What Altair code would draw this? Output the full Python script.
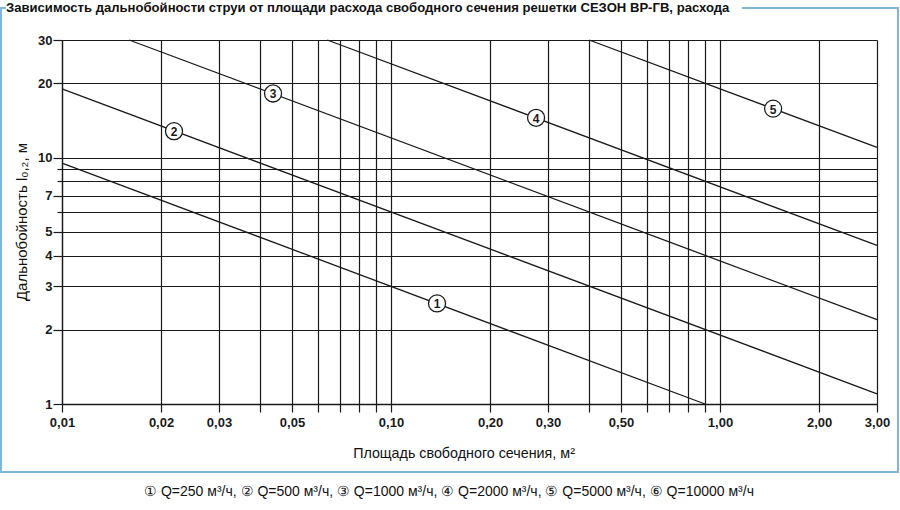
import altair as alt
import pandas as pd

# ---- data ----
line_ids = ["1", "2", "3", "4", "5"]
x_start = [0.01, 0.01, 0.016, 0.064, 0.40]
y_start = [9.5, 19.0, 30.0, 30.0, 30.0]
x_end = [0.90, 3.0, 3.0, 3.0, 3.0]
y_end = [1.0, 1.1, 2.2, 4.4, 11.0]
label_x = [0.138, 0.0219, 0.0438, 0.276, 1.45]
label_y = [2.56, 12.8, 18.2, 14.5, 15.8]

x_grid_values = [0.01, 0.02, 0.03, 0.04, 0.05, 0.06, 0.07, 0.08, 0.09,
                 0.1, 0.2, 0.3, 0.4, 0.5, 0.6, 0.7, 0.8, 0.9, 1, 2, 3]
x_label_values = [0.01, 0.02, 0.03, 0.05, 0.1, 0.2, 0.3, 0.5, 1, 2, 3]
y_grid_values = [1, 2, 3, 4, 5, 6, 7, 8, 9, 10, 20, 30]
y_label_values = [1, 2, 3, 4, 5, 7, 10, 20, 30]

title_text = "Зависимость дальнобойности струи от площади расхода свободного сечения решетки СЕЗОН ВР-ГВ, расхода"
x_title = "Площадь свободного сечения, м²"
y_title = "Дальнобойность l₀,₂, м"
legend_text = "① Q=250 м³/ч, ② Q=500 м³/ч, ③ Q=1000 м³/ч, ④ Q=2000 м³/ч, ⑤ Q=5000 м³/ч, ⑥ Q=10000 м³/ч"

FONT = "Liberation Sans Narrow, Arial Narrow, Liberation Sans, sans-serif"
FRAME = "#80b6d8"
INK = "#1a1a1a"

W, H = 815, 364
PL, PT = 62, 40

lines_df = pd.DataFrame({"id": line_ids, "x1": x_start, "y1": y_start,
                         "x2": x_end, "y2": y_end})
labels_df = pd.DataFrame({"id": line_ids, "x": label_x, "y": label_y})
one = pd.DataFrame({"a": [0]})

xlab_test = "indexof(" + str(x_label_values) + ", datum.value) >= 0"
ylab_test = "indexof(" + str(y_label_values) + ", datum.value) >= 0"

xscale = alt.Scale(type="log", domain=[0.01, 3], nice=False, zero=False)
yscale = alt.Scale(type="log", domain=[1, 30], nice=False, zero=False)

xaxis = alt.Axis(
    values=x_grid_values, grid=True, gridColor=INK, gridWidth=1.2, gridOpacity=1,
    domain=True, domainColor=INK, domainWidth=1.3,
    ticks=True, tickColor=INK, tickSize=8, tickWidth=1.2,
    labelExpr=f"{xlab_test} ? replace(format(datum.value, '.2f'), '.', ',') : ''",
    labelFont=FONT, labelFontSize=13, labelFontWeight="bold", labelColor=INK,
    labelPadding=4, labelFlush=False, labelOverlap=False, title=None,
)
yaxis = alt.Axis(
    values=y_grid_values, grid=True, gridColor=INK, gridWidth=1.2, gridOpacity=1,
    domain=True, domainColor=INK, domainWidth=1.3,
    ticks=True, tickColor=INK, tickWidth=1.2,
    tickSize={"condition": {"test": ylab_test, "value": 9}, "value": 5},
    labelExpr=f"{ylab_test} ? format(datum.value, 'd') : ''",
    labelFont=FONT, labelFontSize=13, labelFontWeight="bold", labelColor=INK,
    labelPadding=1, labelFlush=False, labelOverlap=False, title=None,
)

series = alt.Chart(lines_df).mark_rule(color=INK, strokeWidth=1.3).encode(
    x=alt.X("x1:Q", scale=xscale, axis=xaxis),
    x2="x2:Q",
    y=alt.Y("y1:Q", scale=yscale, axis=yaxis),
    y2="y2:Q",
)

circles = alt.Chart(labels_df).mark_point(
    shape="circle", filled=True, fill="white", stroke=INK, strokeWidth=1.3,
    size=290, opacity=1,
).encode(x=alt.X("x:Q", scale=xscale), y=alt.Y("y:Q", scale=yscale))

numbers = alt.Chart(labels_df).mark_text(
    font=FONT, fontSize=12, fontWeight="bold", color=INK, align="center",
    baseline="middle", dy=1,
).encode(x=alt.X("x:Q", scale=xscale), y=alt.Y("y:Q", scale=yscale), text="id:N")


def frame_rule(x1, x2, y1, y2):
    return alt.Chart(one).mark_rule(color=FRAME, strokeWidth=2).encode(
        x=alt.value(x1 - PL), x2=alt.value(x2 - PL),
        y=alt.value(y1 - PT), y2=alt.value(y2 - PT),
    )


frame = [
    frame_rule(1, 1, 8, 472),
    frame_rule(0, 899, 472, 472),
    frame_rule(898, 898, 8, 472),
    frame_rule(0, 6, 8, 8),
    frame_rule(742, 899, 8, 8),
]

title = alt.Chart(one).mark_text(
    text=title_text, font=FONT, fontSize=13.1, fontWeight="bold", color="#111",
    align="left", baseline="middle",
).encode(x=alt.value(6 - PL), y=alt.value(8 - PT))

xtitle = alt.Chart(one).mark_text(
    text=x_title, font=FONT, fontSize=14.3, color="#111",
    align="center", baseline="middle",
).encode(x=alt.value(464 - PL), y=alt.value(454 - PT))

ytitle = alt.Chart(one).mark_text(
    text=y_title, font=FONT, fontSize=15, color="#111", angle=270,
    align="center", baseline="middle",
).encode(x=alt.value(22 - PL), y=alt.value(222 - PT))

legend = alt.Chart(one).mark_text(
    text=legend_text, font=FONT, fontSize=14, color="#111",
    align="center", baseline="middle",
).encode(x=alt.value(449 - PL), y=alt.value(492 - PT))

chart = alt.layer(
    series, circles, numbers, *frame, title, xtitle, ytitle, legend
).properties(
    width=W, height=H,
    autosize=alt.AutoSizeParams(type="none"),
    padding={"left": PL, "top": PT, "right": 900 - PL - W, "bottom": 510 - PT - H},
    background="white",
).configure_view(stroke=None)

chart.save("out.html", embed_options={"renderer": "svg", "actions": False})
